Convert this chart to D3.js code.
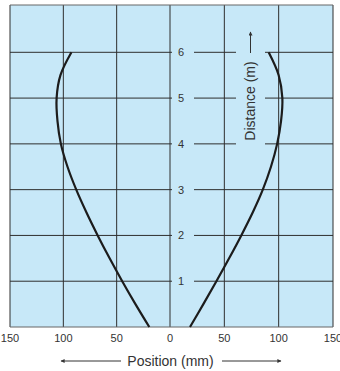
<!DOCTYPE html>
<html>
<head>
<meta charset="utf-8">
<script src="https://cdn.jsdelivr.net/npm/d3@7"></script>
<style>
  body { margin: 0; background: #fff; }
  svg { display: block; font-family: "Liberation Sans", Arial, Helvetica, sans-serif; }
</style>
</head>
<body>
<div id="root"></div>
<script>
// distance from sensor (m) and beam edge position (mm) on each side
var distance = [0, 0.5, 1, 1.5, 2, 2.5, 3, 3.5, 4, 4.5, 5, 5.5, 6];
var leftEdge = [19.4, 32.4, 44.8, 56.6, 67.8, 78.3, 87.9, 96.1, 102.3, 105.5, 106.3, 102.7, 92.4];
var rightEdge = [18.4, 30.7, 42.7, 54.4, 65.6, 76.1, 85.4, 92.9, 98.6, 102.2, 103.4, 100, 90.8];

var xTicks = [-150, -100, -50, 0, 50, 100, 150];
var yTicks = [1, 2, 3, 4, 5, 6];

var W = 340, H = 371;
var bg = "#c7e8f8";
var grid = "#2e2e2e";

var svg = d3.select("#root")
    .append("svg")
    .attr("width", W)
    .attr("height", H);

var x = d3.scaleLinear().domain([-150, 0, 150]).range([10, 170, 333]);
var y = d3.scaleLinear().domain([0, 6, 7]).range([327, 52.3, 5]);

// plot background
svg.append("rect")
    .attr("x", x(-150)).attr("y", y(7))
    .attr("width", x(150) - x(-150))
    .attr("height", y(0) - y(7))
    .attr("fill", bg);

// grid
svg.selectAll("line.v")
    .data(xTicks)
    .enter()
    .append("line")
    .attr("class", "v")
    .attr("x1", function (d) { return x(d); })
    .attr("x2", function (d) { return x(d); })
    .attr("y1", y(7))
    .attr("y2", y(0))
    .attr("stroke", grid)
    .attr("stroke-width", 1);

svg.selectAll("line.h")
    .data([0].concat(yTicks).concat([7]))
    .enter()
    .append("line")
    .attr("class", "h")
    .attr("x1", x(-150))
    .attr("x2", x(150))
    .attr("y1", function (d) { return y(d); })
    .attr("y2", function (d) { return y(d); })
    .attr("stroke", function (d) { return d == 7 || d == 0 ? "#666" : grid; })
    .attr("stroke-width", 1);

// knock out gridlines behind the distance labels
svg.selectAll("rect.k")
    .data(yTicks)
    .enter()
    .append("rect")
    .attr("class", "k")
    .attr("x", 172)
    .attr("y", function (d) { return y(d) - 6; })
    .attr("width", 22)
    .attr("height", 12)
    .attr("fill", bg);

svg.append("rect")
    .attr("x", 236).attr("y", 28)
    .attr("width", 29).attr("height", 122)
    .attr("fill", bg);

svg.selectAll("text.yl")
    .data(yTicks)
    .enter()
    .append("text")
    .attr("class", "yl")
    .attr("x", 181)
    .attr("y", function (d) { return y(d); })
    .attr("dy", "0.36em")
    .attr("text-anchor", "middle")
    .attr("font-size", 11)
    .attr("fill", "#333")
    .text(function (d) { return d; });

// beam edges
var line = d3.line()
    .x(function (d) { return x(d[0]); })
    .y(function (d) { return y(d[1]); })
    .curve(d3.curveCatmullRom);

svg.append("path")
    .datum(distance.map(function (d, i) { return [-leftEdge[i], d]; }))
    .attr("d", line)
    .attr("fill", "none")
    .attr("stroke", "#1c1c1c")
    .attr("stroke-width", 2.2);

svg.append("path")
    .datum(distance.map(function (d, i) { return [rightEdge[i], d]; }))
    .attr("d", line)
    .attr("fill", "none")
    .attr("stroke", "#1c1c1c")
    .attr("stroke-width", 2.2);

// x tick labels (the right-most 150 runs off the edge, as in the original)
svg.selectAll("text.xl")
    .data(xTicks)
    .enter()
    .append("text")
    .attr("class", "xl")
    .attr("x", function (d) { return x(d); })
    .attr("y", 342)
    .attr("text-anchor", "middle")
    .attr("font-size", 11)
    .attr("fill", "#333")
    .text(function (d) { return Math.abs(d); });

// axis titles with arrows
svg.append("text")
    .attr("x", 170.5)
    .attr("y", 366)
    .attr("text-anchor", "middle")
    .attr("font-size", 14)
    .attr("fill", "#333")
    .text("Position (mm)");

var defs = svg.append("defs");
defs.append("marker")
    .attr("id", "head")
    .attr("viewBox", "0 0 10 10")
    .attr("refX", 9).attr("refY", 5)
    .attr("markerWidth", 5).attr("markerHeight", 4)
    .attr("orient", "auto")
    .attr("markerUnits", "userSpaceOnUse")
    .append("path")
    .attr("d", "M0,0L10,5L0,10z")
    .attr("fill", "#333");

function arrow(x1, y1, x2, y2) {
    svg.append("line")
        .attr("x1", x1).attr("y1", y1)
        .attr("x2", x2).attr("y2", y2)
        .attr("stroke", "#333")
        .attr("stroke-width", 1)
        .attr("marker-end", "url(#head)");
}

arrow(121, 361, 61, 361);
arrow(222, 361, 281, 361);

svg.append("text")
    .attr("transform", "translate(255,101) rotate(-90)")
    .attr("text-anchor", "middle")
    .attr("font-size", 14)
    .attr("fill", "#333")
    .text("Distance (m)");

arrow(250.5, 53, 250.5, 32);
</script>
</body>
</html>
